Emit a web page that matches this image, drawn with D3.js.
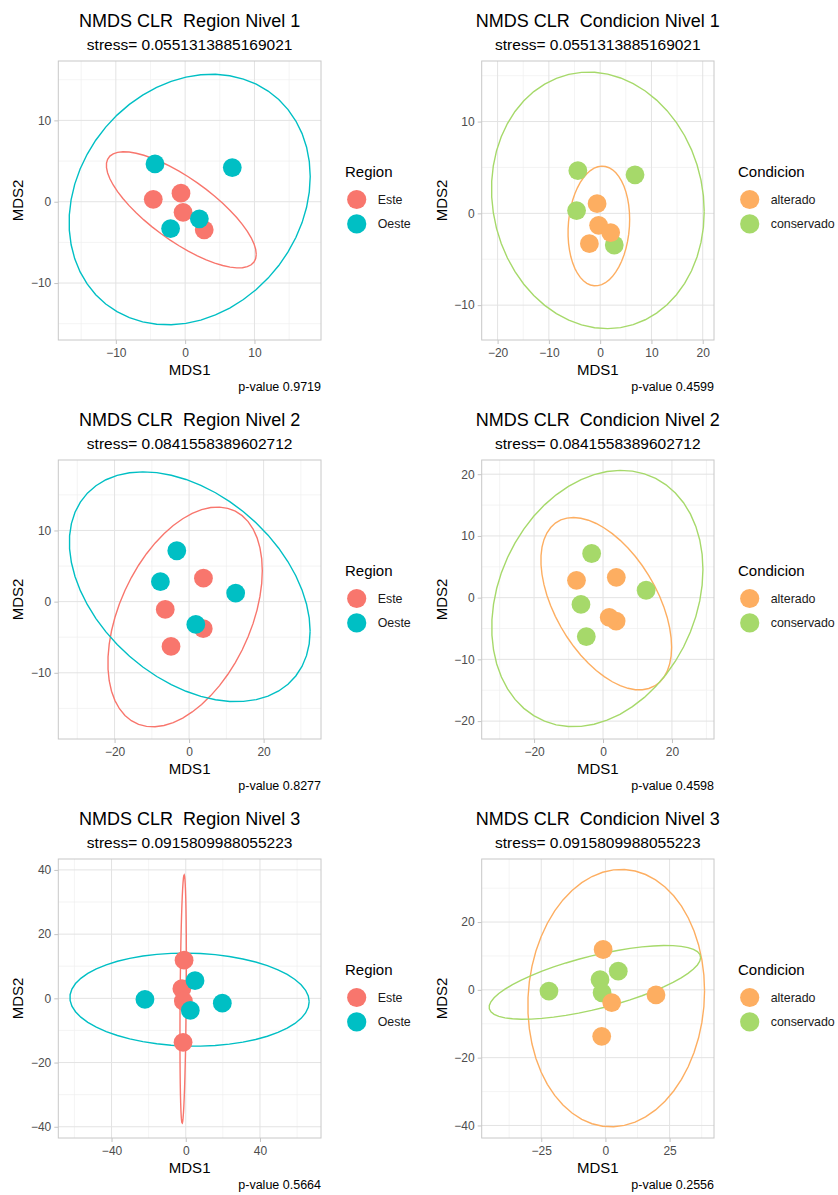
<!DOCTYPE html>
<html>
<head>
<meta charset="utf-8">
<script src="https://cdn.jsdelivr.net/npm/d3@7"></script>
<style>
  body { margin: 0; background: #fff; }
  svg { font-family: "Liberation Sans", Arial, sans-serif; }
</style>
</head>
<body>
<div id="chart"></div>
<script>
// ===== Data =====
const levels = ["Nivel 1", "Nivel 2", "Nivel 3"];
const stress = ["0.0551313885169021", "0.0841558389602712", "0.0915809988055223"];
const pRegion = ["0.9719", "0.8277", "0.5664"];
const pCondicion = ["0.4599", "0.4598", "0.2556"];

const regionGroups = ["Este", "Oeste"];
const condicionGroups = ["alterado", "conservado"];

// NMDS scores, one entry per sample
const mds1Nivel1 = [-4.6, -0.6, -0.3, 2.75, -4.35, 6.8, 2.05, -2.1];
const mds2Nivel1 = [0.3, 1.05, -1.3, -3.45, 4.65, 4.2, -2.1, -3.3];
const regionNivel1 = ["Este", "Este", "Este", "Este", "Oeste", "Oeste", "Oeste", "Oeste"];
const condicionNivel1 = ["conservado", "alterado", "alterado", "conservado", "conservado", "conservado", "alterado", "alterado"];

const mds1Nivel2 = [3.85, -6.4, 3.8, -4.85, -3.3, -7.7, 12.5, 1.8];
const mds2Nivel2 = [3.3, -1.1, -3.8, -6.3, 7.15, 2.8, 1.2, -3.2];
const regionNivel2 = ["Este", "Este", "Este", "Este", "Oeste", "Oeste", "Oeste", "Oeste"];
const condicionNivel2 = ["alterado", "conservado", "alterado", "conservado", "conservado", "alterado", "conservado", "alterado"];

const mds1Nivel3 = [-0.9, -2.1, -1.3, -1.45, -22.0, 5.0, 19.7, 2.45];
const mds2Nivel3 = [11.9, 3.0, -0.85, -13.7, -0.35, 5.5, -1.5, -3.75];
const regionNivel3 = ["Este", "Este", "Este", "Este", "Oeste", "Oeste", "Oeste", "Oeste"];
const condicionNivel3 = ["alterado", "conservado", "conservado", "alterado", "conservado", "conservado", "alterado", "alterado"];

// Axis ranges and breaks per panel
const xDomainRegion = [[-18.3, 19.6], [-35.1, 35.4], [-68.7, 72.9]];
const yDomainRegion = [[-17.0, 17.3], [-19.3, 19.9], [-43.5, 43.4]];
const xDomainCondicion = [[-23.1, 22.2], [-35.2, 32.2], [-48.2, 42.3]];
const yDomainCondicion = [[-13.8, 16.6], [-22.9, 22.3], [-43.7, 38.6]];

const xTicksRegion = [[-10, 0, 10], [-20, 0, 20], [-40, 0, 40]];
const yTicksRegion = [[-10, 0, 10], [-10, 0, 10], [-40, -20, 0, 20, 40]];
const xTicksCondicion = [[-20, -10, 0, 10, 20], [-20, 0, 20], [-25, 0, 25]];
const yTicksCondicion = [[-10, 0, 10], [-20, -10, 0, 10, 20], [-40, -20, 0, 20]];

const mds1 = [mds1Nivel1, mds1Nivel2, mds1Nivel3];
const mds2 = [mds2Nivel1, mds2Nivel2, mds2Nivel3];
const region = [regionNivel1, regionNivel2, regionNivel3];
const condicion = [condicionNivel1, condicionNivel2, condicionNivel3];

// ===== Layout =====
const width = 838;
const height = 1195;
const rowTop = [0, 399, 798];
const panelX = [[58.3, 321], [481.7, 714]];
const panelY = [61, 340];

const svg = d3.select("#chart").append("svg")
  .attr("width", width)
  .attr("height", height);

svg.append("rect").attr("width", width).attr("height", height).attr("fill", "#fff");

// Robust t covariance (same as MASS::cov.trob used by stat_ellipse)
function covTrob(pts, nu = 5, maxit = 25, tol = 0.01) {
  const n = pts.length;
  const p = 2;
  let loc = [d3.mean(pts, d => d[0]), d3.mean(pts, d => d[1])];
  let w = pts.map(() => 1);
  let X;
  for (let iter = 0; iter < maxit; iter++) {
    const w0 = w.slice();
    X = pts.map(d => [d[0] - loc[0], d[1] - loc[1]]);
    const sw = d3.sum(w);
    let a = 0, b = 0, c = 0;
    X.forEach((r, i) => {
      a += w[i] / sw * r[0] * r[0];
      b += w[i] / sw * r[0] * r[1];
      c += w[i] / sw * r[1] * r[1];
    });
    const det = a * c - b * b;
    const Q = X.map(r => (c * r[0] * r[0] - 2 * b * r[0] * r[1] + a * r[1] * r[1]) / det);
    w = Q.map(q => (nu + p) / (nu + q));
    const sw2 = d3.sum(w);
    loc = [d3.sum(pts, (d, i) => w[i] * d[0]) / sw2, d3.sum(pts, (d, i) => w[i] * d[1]) / sw2];
    if (w.every((v, i) => Math.abs(v - w0[i]) < tol)) break;
  }
  let a = 0, b = 0, c = 0;
  X.forEach((r, i) => {
    a += w[i] * r[0] * r[0];
    b += w[i] * r[0] * r[1];
    c += w[i] * r[1] * r[1];
  });
  return { center: loc, cov: [a / n, b / n, c / n] };
}

// 95% ellipse outline, 51 segments like ggplot
function ellipsePoints(pts, level = 0.95, segments = 51) {
  const v = covTrob(pts);
  const dfd = pts.length - 1;
  // F quantile with 2 numerator df
  const fq = (dfd / 2) * (Math.pow(1 - level, -2 / dfd) - 1);
  const radius = Math.sqrt(2 * fq);
  const [a, b, c] = v.cov;
  const r11 = Math.sqrt(a);
  const r12 = b / r11;
  const r22 = Math.sqrt(Math.max(c - r12 * r12, 0));
  return d3.range(segments + 1).map(k => {
    const t = k * 2 * Math.PI / segments;
    return [
      v.center[0] + radius * Math.cos(t) * r11,
      v.center[1] + radius * (Math.cos(t) * r12 + Math.sin(t) * r22)
    ];
  });
}

function minorBreaks(ticks, domain) {
  const step = ticks[1] - ticks[0];
  const out = [];
  for (let v = ticks[0] - step / 2; v <= domain[1]; v += step) {
    if (v >= domain[0]) out.push(v);
  }
  return out;
}

function drawPanel(opts) {
  const { row, col, title, subtitle, caption, groups, groupOf, colors, legendTitle,
          xs, ys, xDomain, yDomain, xTicks, yTicks } = opts;
  const top = rowTop[row];
  const [x0, x1] = panelX[col];
  const y0 = top + panelY[0];
  const y1 = top + panelY[1];

  const x = d3.scaleLinear().domain(xDomain).range([x0, x1]);
  const y = d3.scaleLinear().domain(yDomain).range([y1, y0]);
  const color = d3.scaleOrdinal().domain(groups).range(colors);

  const g = svg.append("g");
  const clipId = `clip-${row}-${col}`;
  g.append("clipPath").attr("id", clipId)
    .append("rect").attr("x", x0).attr("y", y0).attr("width", x1 - x0).attr("height", y1 - y0);

  // Grid
  const grid = g.append("g");
  minorBreaks(xTicks, xDomain).forEach(v => {
    grid.append("line").attr("x1", x(v)).attr("x2", x(v)).attr("y1", y0).attr("y2", y1)
      .attr("stroke", "#efefef").attr("stroke-width", 0.7);
  });
  minorBreaks(yTicks, yDomain).forEach(v => {
    grid.append("line").attr("x1", x0).attr("x2", x1).attr("y1", y(v)).attr("y2", y(v))
      .attr("stroke", "#efefef").attr("stroke-width", 0.7);
  });
  xTicks.forEach(v => {
    grid.append("line").attr("x1", x(v)).attr("x2", x(v)).attr("y1", y0).attr("y2", y1)
      .attr("stroke", "#e3e3e3").attr("stroke-width", 1);
  });
  yTicks.forEach(v => {
    grid.append("line").attr("x1", x0).attr("x2", x1).attr("y1", y(v)).attr("y2", y(v))
      .attr("stroke", "#e3e3e3").attr("stroke-width", 1);
  });

  // Axes
  const xAxis = g.append("g")
    .attr("transform", `translate(0, ${y1})`)
    .call(d3.axisBottom(x).tickValues(xTicks).tickSize(4).tickPadding(4));
  const yAxis = g.append("g")
    .attr("transform", `translate(${x0}, 0)`)
    .call(d3.axisLeft(y).tickValues(yTicks).tickSize(4).tickPadding(3));
  [xAxis, yAxis].forEach(ax => {
    ax.select(".domain").remove();
    ax.selectAll("line").attr("stroke", "#c4c4c4");
    ax.selectAll("text").attr("fill", "#4d4d4d").style("font-size", "12px");
  });

  // Ellipses per group
  const line = d3.line().x(d => x(d[0])).y(d => y(d[1]));
  const plot = g.append("g").attr("clip-path", `url(#${clipId})`);
  groups.forEach(grp => {
    const pts = xs.map((v, i) => [v, ys[i]]).filter((d, i) => groupOf[i] === grp);
    plot.append("path")
      .datum(ellipsePoints(pts))
      .attr("fill", "none")
      .attr("stroke", color(grp))
      .attr("stroke-width", 1.4)
      .attr("d", line);
  });

  // Points
  plot.selectAll("circle")
    .data(xs.map((v, i) => ({ x: v, y: ys[i], grp: groupOf[i] })))
    .enter()
    .append("circle")
      .attr("cx", d => x(d.x))
      .attr("cy", d => y(d.y))
      .attr("r", 9.4)
      .attr("fill", d => color(d.grp));

  // Panel border
  g.append("rect")
    .attr("x", x0).attr("y", y0).attr("width", x1 - x0).attr("height", y1 - y0)
    .attr("fill", "none").attr("stroke", "#c8c8c8").attr("stroke-width", 1);

  // Titles (title keeps its double space)
  const cx = (x0 + x1) / 2;
  g.append("text").attr("x", cx).attr("y", top + 26.5)
    .attr("text-anchor", "middle").style("font-size", "18px").style("white-space", "pre")
    .attr("fill", "#000")
    .text(title);
  g.append("text").attr("x", cx).attr("y", top + 49.5)
    .attr("text-anchor", "middle").style("font-size", "15.5px").attr("fill", "#000")
    .text(subtitle);

  // Axis labels
  g.append("text").attr("x", cx).attr("y", top + 375)
    .attr("text-anchor", "middle").style("font-size", "15px").attr("fill", "#000")
    .text("MDS1");
  g.append("text")
    .attr("transform", `translate(${x0 - 35}, ${(y0 + y1) / 2}) rotate(-90)`)
    .attr("text-anchor", "middle").style("font-size", "15px").attr("fill", "#000")
    .text("MDS2");

  // Caption
  g.append("text").attr("x", x1).attr("y", top + 391)
    .attr("text-anchor", "end").style("font-size", "12.5px").attr("fill", "#000")
    .text(caption);

  // Legend
  const lx = x1 + 24;
  const legend = g.append("g").attr("transform", `translate(${lx}, ${top + 172})`);
  legend.append("text").attr("x", 0).attr("y", 5.3)
    .style("font-size", "15px").attr("fill", "#000").text(legendTitle);
  groups.forEach((grp, i) => {
    legend.append("circle")
      .attr("cx", 11.7).attr("cy", 27.5 + i * 24.4).attr("r", 9.6)
      .attr("fill", color(grp));
    legend.append("text")
      .attr("x", 32.7).attr("y", 27.5 + i * 24.4).attr("dy", "0.35em")
      .style("font-size", "12.4px").attr("fill", "#1a1a1a").text(grp);
  });
}

levels.forEach((lev, i) => {
  drawPanel({
    row: i, col: 0,
    title: `NMDS CLR  Region ${lev}`,
    subtitle: `stress= ${stress[i]}`,
    caption: `p-value ${pRegion[i]}`,
    groups: regionGroups, groupOf: region[i],
    colors: ["#F8766D", "#00BFC4"],
    legendTitle: "Region",
    xs: mds1[i], ys: mds2[i],
    xDomain: xDomainRegion[i], yDomain: yDomainRegion[i],
    xTicks: xTicksRegion[i], yTicks: yTicksRegion[i]
  });
  drawPanel({
    row: i, col: 1,
    title: `NMDS CLR  Condicion ${lev}`,
    subtitle: `stress= ${stress[i]}`,
    caption: `p-value ${pCondicion[i]}`,
    groups: condicionGroups, groupOf: condicion[i],
    colors: ["#FDAE61", "#A6D96A"],
    legendTitle: "Condicion",
    xs: mds1[i], ys: mds2[i],
    xDomain: xDomainCondicion[i], yDomain: yDomainCondicion[i],
    xTicks: xTicksCondicion[i], yTicks: yTicksCondicion[i]
  });
});
</script>
</body>
</html>
